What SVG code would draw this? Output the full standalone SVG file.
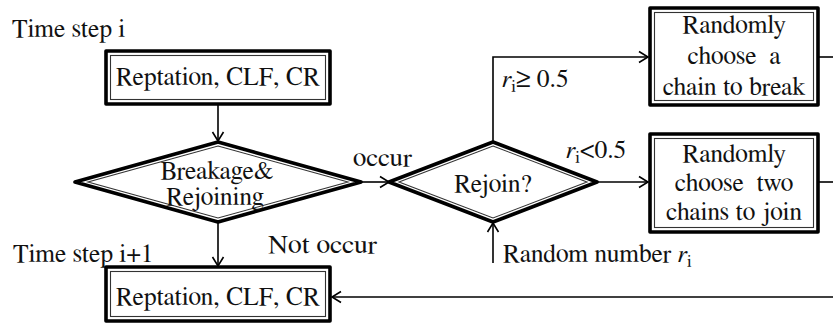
<svg xmlns="http://www.w3.org/2000/svg" width="833" height="324" viewBox="0 0 833 324">
  <style>
    text { font-family: FreeSerif, 'Liberation Serif', serif; font-size: 25.5px; fill: #111; white-space: pre; }
    .c { text-anchor: middle; }
    .outer { fill: #fff; stroke: #000; stroke-width: 3.6; stroke-linejoin: round; }
    .inner { fill: none; stroke: #333; stroke-width: 1.1; }
    .edge { fill: none; stroke: #000; stroke-width: 1.6; }
    .sub { font-size: 17px; }
    .it { font-style: italic; }
  </style>
  <defs>
    <marker id="arrow" markerUnits="userSpaceOnUse" markerWidth="14" markerHeight="14" refX="11" refY="7" orient="auto">
      <path d="M2,1.5 L11,7 L2,12.5" fill="none" stroke="#000" stroke-width="1.6"/>
    </marker>
  </defs>

  <rect width="833" height="324" fill="#fff"/>

  <!-- time step labels -->
  <text x="12" y="37">Time step i</text>
  <text x="13" y="262">Time step i+1</text>

  <!-- connectors -->
  <g id="connectors">
    <line class="edge" x1="218" y1="104" x2="218" y2="141" marker-end="url(#arrow)"/>
    <line class="edge" x1="218" y1="223" x2="218" y2="266" marker-end="url(#arrow)"/>
    <line class="edge" x1="362" y1="182" x2="389" y2="182" marker-end="url(#arrow)"/>
    <polyline class="edge" points="493,142 493,57 648,57" marker-end="url(#arrow)"/>
    <line class="edge" x1="598" y1="182" x2="648" y2="182" marker-end="url(#arrow)"/>
    <line class="edge" x1="493" y1="263" x2="493" y2="223" marker-end="url(#arrow)"/>
    <line class="edge" x1="819" y1="57" x2="833" y2="57"/>
    <line class="edge" x1="819" y1="182" x2="833" y2="182"/>
    <line class="edge" x1="833" y1="297" x2="332" y2="297" marker-end="url(#arrow)"/>
    <text x="353" y="166" textLength="59" lengthAdjust="spacingAndGlyphs">occur</text>
    <text x="268" y="253" textLength="109" lengthAdjust="spacingAndGlyphs">Not occur</text>
    <text x="502" y="87"><tspan class="it">r</tspan><tspan class="sub" dy="5">i</tspan><tspan dy="-5">≥ 0.5</tspan></text>
    <text x="566" y="158"><tspan class="it">r</tspan><tspan class="sub" dy="5">i</tspan><tspan dy="-5">&lt;0.5</tspan></text>
    <text x="503" y="262">Random number <tspan class="it">r</tspan><tspan class="sub" dy="5">i</tspan></text>
  </g>

  <!-- initial update step -->
  <g id="step-i">
    <rect class="outer" x="106" y="51" width="224" height="53"/>
    <rect class="inner" x="110.5" y="55.5" width="215" height="44"/>
    <text class="c" x="218" y="85">Reptation, CLF, CR</text>
  </g>

  <!-- breakage / rejoining decision -->
  <g id="breakage">
    <polygon class="outer" points="218,142 361,182 218,222 75,182"/>
    <polygon class="inner" points="218,146 348,182 218,218 88,182"/>
    <text class="c" x="217" y="179">Breakage&amp;</text>
    <text class="c" x="215" y="205">Rejoining</text>
  </g>

  <!-- rejoin decision -->
  <g id="rejoin">
    <polygon class="outer" points="493,142 597,182 493,222 389,182"/>
    <polygon class="inner" points="493,146 587,182 493,218 399,182"/>
    <text class="c" x="493" y="192">Rejoin?</text>
  </g>

  <!-- break branch -->
  <g id="break-chain">
    <rect class="outer" x="650" y="8" width="168" height="97"/>
    <rect class="inner" x="654.5" y="12.5" width="159" height="88"/>
    <text class="c" x="734" y="33">Randomly</text>
    <text class="c" x="734" y="64">choose  a</text>
    <text class="c" x="734" y="95">chain to break</text>
  </g>

  <!-- join branch -->
  <g id="join-chains">
    <rect class="outer" x="650" y="134" width="168" height="98"/>
    <rect class="inner" x="654.5" y="138.5" width="159" height="89"/>
    <text class="c" x="734" y="162">Randomly</text>
    <text class="c" x="734" y="191">choose  two</text>
    <text class="c" x="734" y="220">chains to join</text>
  </g>

  <!-- next update step -->
  <g id="step-i1">
    <rect class="outer" x="106" y="267" width="224" height="54"/>
    <rect class="inner" x="110.5" y="271.5" width="215" height="45"/>
    <text class="c" x="218" y="305">Reptation, CLF, CR</text>
  </g>
</svg>
